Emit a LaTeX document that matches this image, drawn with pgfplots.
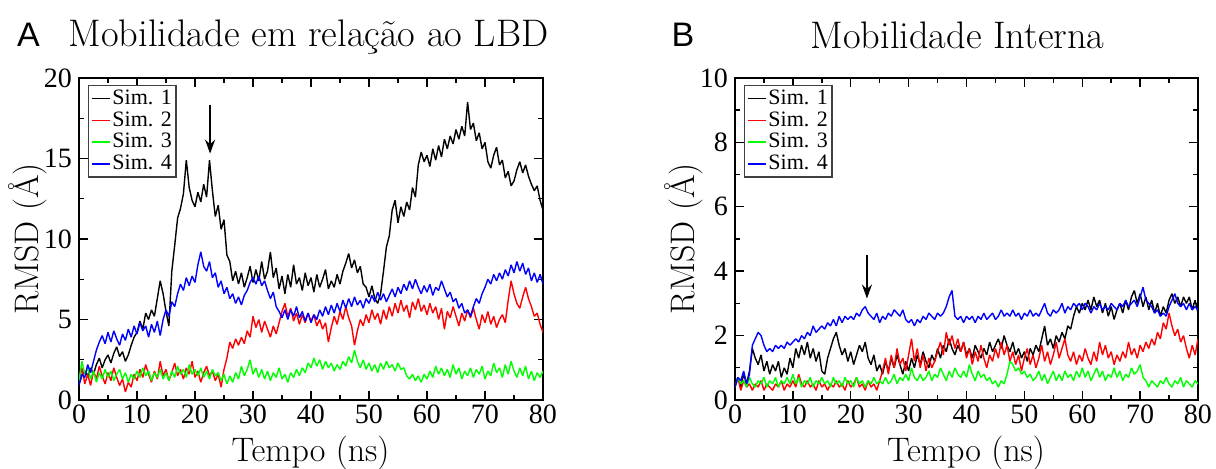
\documentclass[border=0pt]{standalone}
\usepackage{pgfplots}
\pgfplotsset{compat=1.18}
\usepackage{pgfplotstable}
\usepackage{fontspec}
\usetikzlibrary{arrows.meta}
\newfontfamily\timesf{Liberation Serif}
\newfontfamily\arialf{Liberation Sans}

\pgfplotstableread{
t s1 s2 s3 s4
0 1.0 1.2 1.2 0.9
0.5 1.5 2.0 2.4 1.6
1 1.8 1.0 1.6 1.4
1.5 1.5 1.6 2.0 2.2
2 2.0 0.9 1.3 1.7
2.5 1.6 1.8 1.8 2.4
3 2.2 1.3 1.1 3.1
3.5 2.6 2.1 1.7 3.6
4 2.0 1.5 1.3 4.0
4.5 2.5 1.0 1.9 3.5
5 2.8 1.7 1.4 4.2
5.5 2.3 1.2 1.8 3.6
6 2.9 2.0 1.2 4.3
6.5 3.3 1.4 1.6 3.8
7 2.7 0.9 1.9 3.4
7.5 3.0 1.3 1.3 4.1
8 2.4 0.5 1.7 3.7
8.5 2.8 1.1 1.1 4.4
9 3.4 0.8 1.6 3.9
9.5 3.9 1.6 1.3 4.6
10 4.2 1.2 1.8 4.1
10.5 4.9 1.9 1.4 4.8
11 4.4 1.4 2.0 4.3
11.5 5.4 2.2 1.5 4.6
12 5.0 1.6 1.8 3.9
12.5 5.6 1.1 1.2 4.7
13 5.2 1.8 1.7 4.2
13.5 6.3 1.3 1.4 4.9
14 7.4 2.4 1.9 4.0
14.5 6.6 1.5 1.3 5.0
15 5.5 1.9 1.7 5.6
15.5 4.6 1.2 1.2 5.2
16 8.0 1.7 1.8 6.1
16.5 9.6 2.3 1.4 5.8
17 11.3 1.5 2.1 6.6
17.5 11.9 1.9 1.6 7.2
18 12.8 1.3 1.9 6.8
18.5 14.9 2.0 1.4 7.6
19 13.2 1.6 2.2 7.1
19.5 12.4 2.4 1.6 7.7
20 12.0 1.4 1.9 7.3
20.5 12.9 1.8 1.5 8.4
21 12.3 1.1 2.0 9.2
21.5 13.4 1.7 1.4 8.3
22 12.6 2.1 1.8 8.0
22.5 14.9 1.5 1.3 8.6
23 13.0 1.8 1.9 7.6
23.5 11.4 1.2 1.5 7.9
24 12.1 1.6 1.7 7.0
24.5 10.6 0.8 1.2 7.4
25 11.2 1.9 1.6 6.6
25.5 9.0 2.6 1.0 7.0
26 8.6 3.6 1.5 6.3
26.5 7.4 3.2 1.1 6.6
27 8.0 3.8 1.7 6.0
27.5 7.2 3.4 1.3 6.4
28 7.9 3.9 2.1 5.9
28.5 7.0 3.5 1.5 6.5
29 7.6 4.3 1.9 6.8
29.5 8.3 3.9 2.5 7.3
30 7.3 5.2 1.6 7.6
30.5 8.1 4.5 2.0 7.2
31 7.4 5.0 1.4 7.7
31.5 8.6 4.2 1.9 7.1
32 7.5 4.9 1.3 7.4
32.5 8.0 4.4 1.8 6.8
33 9.2 3.9 1.2 6.3
33.5 7.6 4.6 1.7 6.7
34 8.2 4.1 1.4 5.8
34.5 6.9 4.8 2.0 5.5
35 7.7 5.5 1.3 5.1
35.5 6.6 6.0 1.6 5.6
36 7.8 5.2 1.1 5.0
36.5 7.0 5.7 1.7 5.6
37 8.4 4.9 1.4 5.2
37.5 7.2 5.4 1.9 5.8
38 7.6 4.7 1.5 5.1
38.5 6.8 5.3 2.0 5.5
39 7.9 4.8 1.7 4.9
39.5 7.1 5.4 2.3 5.4
40 7.6 4.9 2.0 4.8
40.5 6.7 5.3 2.6 5.3
41 7.8 4.6 2.1 5.0
41.5 7.0 5.0 2.5 5.6
42 7.5 4.4 1.9 5.2
42.5 8.1 4.8 2.4 5.8
43 6.9 3.6 2.0 5.3
43.5 7.4 4.5 2.3 5.9
44 7.0 5.2 1.8 5.4
44.5 7.8 4.7 2.2 6.0
45 7.2 5.5 1.9 5.5
45.5 8.0 5.0 2.4 6.2
46 8.5 5.8 2.1 5.7
46.5 9.1 5.1 2.7 6.3
47 8.2 4.6 2.3 5.8
47.5 8.7 3.4 3.1 6.4
48 7.9 4.3 2.4 5.9
48.5 8.3 5.0 2.0 6.2
49 7.2 4.6 2.5 5.7
49.5 7.0 5.3 1.9 6.3
50 6.4 4.8 2.3 6.0
50.5 7.1 5.6 1.8 6.5
51 6.3 5.0 2.2 6.1
51.5 6.0 5.4 1.7 6.7
52 6.6 4.7 2.3 6.2
52.5 8.0 5.6 1.9 6.6
53 9.5 5.0 2.4 6.1
53.5 10.2 5.8 2.0 6.5
54 11.8 5.2 2.2 6.9
54.5 12.4 6.0 1.8 6.4
55 11.0 5.4 2.3 7.0
55.5 12.0 6.2 1.9 6.6
56 11.4 5.5 2.0 7.2
56.5 12.3 5.9 1.5 6.8
57 11.8 5.1 1.3 7.4
57.5 13.2 6.1 1.6 6.9
58 12.6 5.6 1.2 7.5
58.5 14.6 6.3 1.5 7.0
59 15.4 5.5 1.1 6.6
59.5 14.8 5.9 1.6 7.1
60 15.2 5.3 1.3 6.7
60.5 14.5 6.0 1.8 7.2
61 15.6 5.4 1.4 6.5
61.5 14.9 5.8 2.1 7.0
62 15.8 5.0 1.6 6.8
62.5 15.1 5.7 2.0 7.4
63 16.2 4.4 1.5 6.9
63.5 15.6 5.5 1.9 6.4
64 16.4 5.1 1.4 6.7
64.5 15.9 5.8 2.2 6.1
65 16.8 5.2 1.6 6.3
65.5 16.2 4.6 2.0 5.7
66 17.0 5.4 1.3 6.0
66.5 16.4 4.9 1.8 5.4
67 18.5 5.6 1.5 5.6
67.5 16.8 5.1 2.0 5.2
68 17.2 5.7 1.4 5.8
68.5 16.1 5.0 1.9 6.3
69 16.6 4.4 1.6 6.0
69.5 15.6 5.3 2.1 6.6
70 16.0 4.8 1.3 7.0
70.5 14.8 5.5 1.8 7.5
71 14.4 4.7 1.5 7.2
71.5 15.2 5.2 2.3 7.8
72 15.7 4.5 1.7 7.4
72.5 14.6 5.0 2.0 7.9
73 14.9 5.3 1.4 7.5
73.5 13.8 4.8 2.2 8.1
74 14.2 6.2 1.6 7.7
74.5 13.3 7.4 2.4 8.4
75 13.6 6.6 1.8 7.9
75.5 14.3 6.0 1.4 8.6
76 14.8 5.7 2.0 8.0
76.5 14.1 6.4 1.5 8.5
77 14.6 7.0 2.1 7.8
77.5 13.9 6.3 1.3 8.2
78 13.4 5.8 1.8 7.4
78.5 13.0 5.2 1.2 7.9
79 13.3 5.4 1.7 7.3
79.5 12.4 4.7 1.4 7.8
80 11.8 4.2 1.8 7.2
}\dataA

\pgfplotstableread{
t s1 s2 s3 s4
0 0.5 0.4 0.4 0.4
0.5 0.7 0.7 0.7 0.7
1 0.4 0.3 0.5 0.6
1.5 0.8 0.6 0.6 0.9
2 0.5 0.4 0.4 0.5
2.5 0.9 0.5 0.7 0.8
3 1.6 0.3 0.5 1.7
3.5 1.3 0.5 0.4 1.9
4 1.1 0.4 0.6 2.1
4.5 1.4 0.6 0.5 2.0
5 0.9 0.3 0.7 1.7
5.5 1.2 0.5 0.4 1.5
6 0.8 0.4 0.6 1.6
6.5 1.1 0.3 0.5 1.5
7 0.9 0.5 0.7 1.7
7.5 1.2 0.4 0.4 1.6
8 0.7 0.6 0.6 1.7
8.5 1.0 0.3 0.5 1.6
9 0.8 0.5 0.7 1.8
9.5 1.3 0.4 0.5 1.7
10 1.0 0.6 0.8 1.8
10.5 1.6 0.4 0.5 1.9
11 1.3 0.8 0.7 1.8
11.5 1.7 0.5 0.4 2.0
12 1.4 0.4 0.6 1.9
12.5 1.8 0.6 0.5 2.1
13 1.3 0.4 0.7 2.0
13.5 1.6 0.5 0.4 2.3
14 1.2 0.3 0.6 2.1
14.5 1.5 0.6 0.5 2.2
15 0.9 0.4 0.7 2.3
15.5 0.8 0.5 0.5 2.2
16 1.3 0.3 0.6 2.4
16.5 1.6 0.5 0.4 2.3
17 1.9 0.4 0.7 2.5
17.5 2.1 0.6 0.5 2.3
18 1.7 0.4 0.6 2.6
18.5 1.4 0.5 0.4 2.4
19 1.6 0.3 0.7 2.6
19.5 1.2 0.6 0.5 2.5
20 1.5 0.4 0.6 2.6
20.5 1.1 0.5 0.4 2.5
21 1.4 0.7 0.7 2.7
21.5 1.7 0.4 0.5 2.6
22 1.5 0.5 0.6 2.8
22.5 1.8 0.3 0.4 2.9
23 1.3 0.6 0.6 2.7
23.5 1.1 0.4 0.5 2.6
24 1.4 0.5 0.7 2.5
24.5 0.9 0.3 0.5 2.7
25 1.1 0.6 0.6 2.4
25.5 0.8 0.9 0.5 2.6
26 1.2 1.3 0.7 2.5
26.5 0.9 0.8 0.5 2.7
27 1.3 1.4 0.6 2.6
27.5 1.0 1.0 0.8 2.8
28 1.4 1.6 0.5 2.7
28.5 1.1 1.1 0.7 2.6
29 0.8 1.3 0.6 2.8
29.5 1.2 0.9 0.8 2.5
30 0.9 1.4 0.6 2.4
30.5 1.3 1.9 1.0 2.5
31 1.0 1.2 0.7 2.3
31.5 1.4 1.6 0.6 2.5
32 1.1 1.0 0.8 2.4
32.5 1.5 1.4 0.6 2.6
33 1.2 0.9 0.7 2.5
33.5 1.0 1.3 0.9 2.7
34 1.4 1.0 0.6 2.6
34.5 1.2 1.2 0.8 2.5
35 1.6 1.5 0.7 2.7
35.5 1.3 1.8 1.0 2.6
36 1.7 1.4 0.8 2.7
36.5 1.5 2.1 0.6 2.9
37 1.9 1.7 0.9 3.2
37.5 1.6 2.0 0.7 3.4
38 1.4 1.6 1.0 2.6
38.5 1.7 1.9 0.8 2.5
39 1.5 1.5 0.7 2.6
39.5 1.8 1.8 0.9 2.4
40 1.4 1.3 0.7 2.6
40.5 1.6 1.6 1.1 2.5
41 1.3 1.1 0.8 2.6
41.5 1.7 1.5 0.6 2.4
42 1.5 1.2 0.9 2.6
42.5 1.3 1.7 0.7 2.5
43 1.6 1.3 0.8 2.7
43.5 1.4 1.0 0.6 2.5
44 1.8 1.4 0.7 2.6
44.5 1.5 1.2 0.5 2.7
45 1.7 1.6 0.6 2.5
45.5 1.9 1.3 0.4 2.6
46 1.6 1.8 0.6 2.8
46.5 2.0 1.4 0.5 2.6
47 1.7 1.7 0.8 2.7
47.5 1.5 1.2 1.2 2.6
48 1.8 1.5 1.1 2.8
48.5 1.4 1.1 0.9 2.6
49 1.6 1.4 1.0 2.7
49.5 1.3 0.9 0.8 2.5
50 1.5 1.3 0.9 2.7
50.5 1.2 1.6 0.7 2.6
51 1.6 1.1 0.8 2.8
51.5 1.4 1.4 0.6 2.6
52 1.7 1.0 0.7 2.7
52.5 1.5 1.3 0.9 2.6
53 1.9 1.7 0.6 2.8
53.5 2.3 1.2 0.8 3.0
54 1.7 1.5 0.5 2.7
54.5 1.9 1.1 0.7 2.6
55 1.6 1.4 0.9 2.8
55.5 2.0 1.8 0.6 2.7
56 1.8 1.3 0.8 2.8
56.5 2.1 1.6 0.6 3.0
57 1.9 1.9 0.9 2.7
57.5 2.3 1.4 0.7 2.9
58 2.2 1.2 0.8 2.8
58.5 2.6 1.5 0.6 3.0
59 2.9 1.1 0.9 2.9
59.5 2.7 1.4 0.7 3.0
60 3.0 1.2 1.0 2.8
60.5 2.8 1.6 0.7 3.0
61 3.1 1.3 0.9 2.9
61.5 2.8 1.1 0.6 2.7
62 3.2 1.5 0.8 2.9
62.5 2.9 1.2 1.0 2.8
63 3.1 1.8 0.7 3.0
63.5 2.7 1.4 0.9 2.8
64 3.0 1.7 0.6 2.9
64.5 2.6 1.3 0.8 2.8
65 2.9 1.5 0.7 3.0
65.5 2.5 1.1 1.0 2.9
66 2.8 1.4 0.7 2.8
66.5 3.0 1.2 0.9 3.0
67 2.7 1.5 0.6 2.9
67.5 3.1 1.3 0.8 3.1
68 2.8 1.8 0.7 2.9
68.5 3.2 1.4 1.0 3.0
69 3.4 1.6 0.8 3.1
69.5 3.0 1.3 0.9 2.9
70 3.3 1.7 1.1 3.2
70.5 2.9 1.5 0.7 3.5
71 3.2 1.8 0.6 3.1
71.5 2.8 1.6 0.4 3.0
72 3.1 1.9 0.6 2.9
72.5 2.7 1.7 0.5 2.7
73 3.0 2.1 0.4 2.8
73.5 2.6 1.9 0.6 2.6
74 2.9 2.4 0.5 2.7
74.5 2.7 2.2 0.7 2.6
75 3.1 2.7 0.5 2.9
75.5 3.3 2.3 0.4 3.1
76 3.0 2.0 0.6 3.3
76.5 3.2 2.2 0.5 3.0
77 2.9 1.8 0.7 2.9
77.5 3.2 2.0 0.4 3.0
78 3.0 1.6 0.6 2.8
78.5 3.2 1.3 0.5 3.0
79 2.8 1.7 0.4 2.8
79.5 3.1 1.4 0.6 2.9
80 2.7 1.9 0.5 2.8
}\dataB

\pgfplotsset{
  legend image code/.code={\draw[#1, line width=0.7pt] (0pt,0pt) -- (9pt,0pt);},
  xmg/.style={
    scale only axis,
    height=161pt,
    xmin=0, xmax=80,
    xtick={0,10,...,80},
    minor x tick num=1,
    axis line style={line width=1pt},
    every tick/.style={black, line width=0.7pt},
    major tick length=4.5pt,
    minor tick length=2.5pt,
    tick align=inside,
    xtick pos=both, ytick pos=both,
    /pgf/number format/assume math mode=true,
    ticklabel style={font=\timesf\fontsize{14}{14}\selectfont},
    xticklabel style={yshift=1pt},
    legend cell align=left,
    legend style={at={(0.02,0.978)}, anchor=north west, draw=black!75,
      line width=0.6pt, fill=white,
      font=\timesf\fontsize{11}{11}\selectfont,
      inner sep=1.2pt, row sep=0.3pt,
      nodes={inner sep=0.9pt}},
    every axis plot/.append style={line width=0.7pt, line join=bevel},
  }
}

\begin{document}
\begin{tikzpicture}
\useasboundingbox (0,0) rectangle (608pt,234.5pt);

\begin{axis}[xmg, at={(39.5pt,34.5pt)}, anchor=south west, width=232pt,
  ymin=0, ymax=20, ytick={0,5,...,20}, minor y tick num=1]
\addplot[black] table[x=t, y=s1] {\dataA};
\addplot[red] table[x=t, y=s2] {\dataA};
\addplot[green] table[x=t, y=s3] {\dataA};
\addplot[blue] table[x=t, y=s4] {\dataA};
\legend{Sim. 1, Sim. 2, Sim. 3, Sim. 4}
\draw[-{Stealth[length=7pt,width=5pt]}, line width=1pt] (axis cs:22.6,18.3) -- (axis cs:22.6,15.3);
\end{axis}

\begin{axis}[xmg, at={(367.5pt,34.5pt)}, anchor=south west, width=231.5pt,
  ymin=0, ymax=10, ytick={0,2,...,10}, minor y tick num=1]
\addplot[black] table[x=t, y=s1] {\dataB};
\addplot[red] table[x=t, y=s2] {\dataB};
\addplot[green] table[x=t, y=s3] {\dataB};
\addplot[blue] table[x=t, y=s4] {\dataB};
\legend{Sim. 1, Sim. 2, Sim. 3, Sim. 4}
\draw[-{Stealth[length=7pt,width=5pt]}, line width=1pt] (axis cs:22.8,4.5) -- (axis cs:22.8,3.15);
\end{axis}

\node[font=\arialf\fontsize{17}{17}\selectfont] at (14.25pt,217pt) {A};
\node[font=\arialf\fontsize{17}{17}\selectfont] at (341.5pt,217pt) {B};
\node[anchor=base, font=\fontsize{19.2}{19.2}\selectfont] at (154.25pt,211pt) {Mobilidade em relação ao LBD};
\node[anchor=base, font=\fontsize{19.2}{19.2}\selectfont] at (478.75pt,210pt) {Mobilidade Interna};
\node[anchor=base, font=\fontsize{17}{17}\selectfont] at (155.25pt,3.5pt) {Tempo (ns)};
\node[anchor=base, font=\fontsize{17}{17}\selectfont] at (483pt,3.5pt) {Tempo (ns)};
\node[rotate=90, font=\fontsize{17}{17}\selectfont] at (13.75pt,115pt) {RMSD (Å)};
\node[rotate=90, font=\fontsize{17}{17}\selectfont] at (342pt,115pt) {RMSD (Å)};
\end{tikzpicture}
\end{document}
